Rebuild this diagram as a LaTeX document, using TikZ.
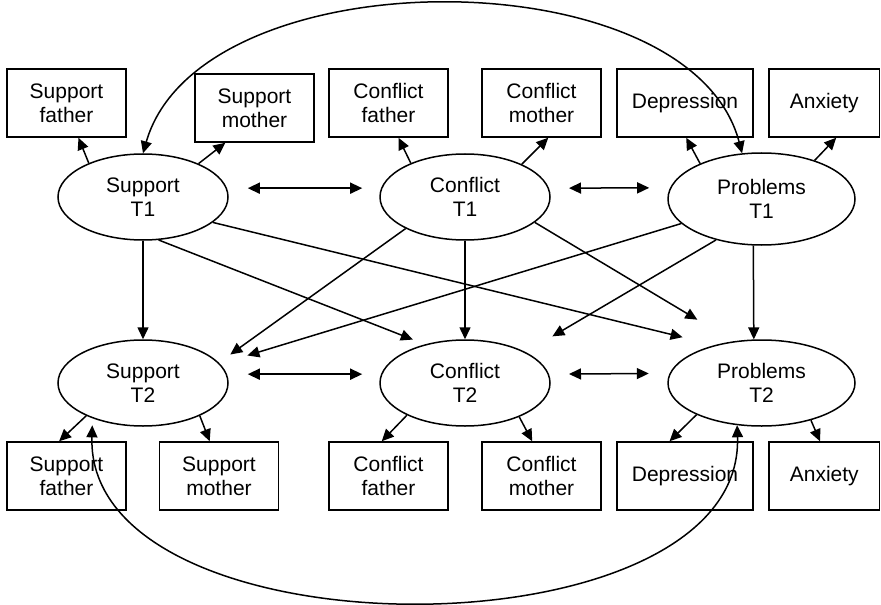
\documentclass[tikz,border=0pt]{standalone}
\usepackage{fontspec}
\setmainfont{Liberation Sans}
\usetikzlibrary{arrows.meta,shapes.geometric}

\begin{document}
\begin{tikzpicture}[x=0.5pt, y=-0.5pt, line width=0.75pt,
    font=\fontsize{10.5}{12}\selectfont,
    ind/.style={draw, rectangle, minimum width=59.5pt, minimum height=34pt, inner sep=1pt, align=center},
    lat/.style={draw, ellipse, minimum width=85pt, minimum height=43pt, inner sep=0pt, align=center},
    arr/.style={-{Triangle[length=6pt,width=5.5pt]}},
    darr/.style={{Triangle[length=6pt,width=5.5pt]}-{Triangle[length=6pt,width=5.5pt]}}]
    \useasboundingbox (0,0) rectangle (881,604);

    %latent variables
        \foreach \n/\x/\y/\t in {s1/143/197/{Support\\T1}, c1/465/197/{Conflict\\T1},
                                 s2/143/383/{Support\\T2}, c2/465/383/{Conflict\\T2}} {
            \node[lat] (\n) at (\x,\y) {\t};
        }
        \node[lat, minimum width=93.5pt, minimum height=46pt] (p1) at (761.5,199) {Problems\\T1};
        \node[lat, minimum width=93.5pt] (p2) at (761.5,383) {Problems\\T2};

    %indicators
        \foreach \n/\x/\y/\w/\t in {
            sf1/66.5/103/59.5/{Support\\father}, sm1/254.5/108/59.5/{Support\\mother},
            cf1/388.5/103/59.5/{Conflict\\father}, cm1/541.5/103/59.5/{Conflict\\mother},
            dep1/685/103/68/Depression, anx1/824.25/103/55.25/Anxiety,
            sf2/66.5/476/59.5/{Support\\father}, sm2/219/476/59.5/{Support\\mother},
            cf2/388.5/476/59.5/{Conflict\\father}, cm2/541.5/476/59.5/{Conflict\\mother},
            dep2/685/476/68/Depression, anx2/824.25/476/55.25/Anxiety} {
            \node[ind, minimum width=\w pt] (\n) at (\x,\y) {\t};
        }

        \foreach \a/\b in {s1.148/sf1.-71, s1.31/sm1.-130, c1.148/cf1.-74, c1.30/cm1.-79,
                           p1.150/dep1.-88, p1.36/anx1.-71,
                           s2.210/sf2.102, s2.-30/sm2.105, c2.209/cf2.101, c2.-32/cm2.105,
                           p2.206/dep2.114, p2.-37/anx2.97} {
            \draw[arr] (\a) -- (\b);
        }

    %paths T1 to T2
        \draw[arr] (s1) -- (s2);
        \draw[arr] (c1) -- (c2);
        \draw[arr] (p1.-100) -- (p2.100);
        \foreach \a/\b/\s in {s1.-70/c2.136/6.5, s1.-20/p2.141/16.5, c1.208/s2.15/7,
                              c1.-20/p2.124/21, p1.197/s2.14/14.3, p1.222/c2.27/15.5} {
            \draw[arr, shorten >=\s pt] (\a) -- (\b);
        }

    %covariances
        \draw[darr, shorten <=10.4pt, shorten >=9.4pt] (s1.6) -- (c1.174);
        \draw[darr, shorten <=10pt, shorten >=10.4pt] (c1.6) -- (p1.173);
        \draw[darr, shorten <=10.4pt, shorten >=9.4pt] (s2.6) -- (c2.174);
        \draw[darr, shorten <=10pt, shorten >=10.4pt] (c2.6) -- (p2.174);
        \draw[darr] (s1.north) .. controls (200,-45) and (690,-45) .. (p1.113);
        \draw[darr, shorten <=3.5pt] (s2.215) .. controls (85,660) and (745,660) .. (p2.240);
    \end{tikzpicture}
\end{document}
